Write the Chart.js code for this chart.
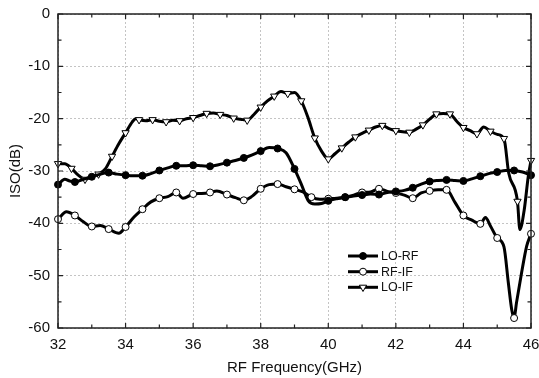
<!DOCTYPE html>
<html><head><meta charset="utf-8">
<script src="https://cdn.jsdelivr.net/npm/chart.js@4"></script>
<style>html,body{margin:0;padding:0;background:#fff}#wrap{width:539px;height:378px;position:relative}</style>
</head><body><div id="wrap"><canvas id="c" width="539" height="378"></canvas></div>
<script>
// ---- data ----
const seriesNames = ['LO-RF', 'RF-IF', 'LO-IF'];
const xTickValues = [32, 34, 36, 38, 40, 42, 44, 46];
const yTickValues = [0, -10, -20, -30, -40, -50, -60];

const freqLoRf = [32.0,32.2,32.35,32.5,32.75,33.0,33.25,33.5,33.75,34.0,34.25,34.5,34.75,35.0,35.25,35.5,35.75,36.0,36.25,36.5,36.75,37.0,37.25,37.5,37.75,38.0,38.25,38.5,38.75,39.0,39.2,39.4,39.6,39.8,40.0,40.25,40.5,40.75,41.0,41.25,41.5,41.75,42.0,42.25,42.5,42.75,43.0,43.25,43.5,43.75,44.0,44.25,44.5,44.75,45.0,45.25,45.5,45.75,46.0];
const isoLoRf  = [-32.6,-31.6,-31.9,-32.1,-31.6,-31.1,-30.6,-30.3,-30.6,-30.8,-30.9,-30.9,-30.5,-29.9,-29.4,-29.0,-29.0,-28.9,-29.0,-29.1,-28.8,-28.4,-28.0,-27.5,-26.9,-26.2,-25.5,-25.7,-26.5,-29.6,-32.5,-35.6,-36.3,-36.2,-35.7,-35.3,-35.0,-34.8,-34.6,-34.4,-34.5,-34.1,-33.9,-33.7,-33.2,-32.5,-32.0,-31.8,-31.7,-31.8,-31.9,-31.5,-31.0,-30.5,-30.2,-29.9,-29.9,-30.2,-30.8];

const freqRfIf = [32.0,32.25,32.5,32.75,33.0,33.25,33.5,33.8,34.0,34.25,34.5,34.75,35.0,35.25,35.5,35.7,36.0,36.25,36.5,36.7,37.0,37.25,37.5,37.75,38.0,38.25,38.5,38.75,39.0,39.25,39.5,39.75,40.0,40.25,40.5,40.75,41.0,41.25,41.5,41.75,42.0,42.25,42.5,42.75,43.0,43.25,43.5,43.75,44.0,44.25,44.5,44.65,44.8,45.0,45.2,45.33,45.43,45.5,45.57,45.72,45.87,46.0];
const isoRfIf  = [-39.2,-37.8,-38.5,-39.7,-40.6,-40.4,-41.1,-41.9,-40.7,-38.8,-37.3,-35.9,-35.2,-34.9,-34.1,-35.2,-34.4,-34.3,-34.1,-33.8,-34.5,-35.1,-35.6,-34.8,-33.4,-32.6,-32.5,-33.0,-33.5,-34.0,-35.0,-35.4,-35.3,-35.2,-35.0,-34.6,-34.1,-34.0,-33.4,-33.9,-34.2,-34.6,-35.2,-34.2,-33.8,-33.6,-33.6,-36.0,-38.5,-39.4,-40.1,-38.9,-40.5,-42.8,-44.5,-51.4,-56.5,-58.1,-55.2,-49.5,-44.4,-42.0];

const freqLoIf = [32.0,32.2,32.4,32.6,32.8,33.0,33.2,33.4,33.6,33.8,34.0,34.2,34.3,34.4,34.6,34.8,35.0,35.2,35.4,35.6,35.8,36.0,36.2,36.4,36.6,36.8,37.0,37.2,37.4,37.6,37.8,38.0,38.2,38.4,38.6,38.8,39.0,39.2,39.4,39.6,39.8,40.0,40.2,40.4,40.6,40.8,41.0,41.2,41.4,41.6,41.8,42.0,42.2,42.4,42.6,42.8,43.0,43.2,43.4,43.6,43.8,44.0,44.2,44.4,44.6,44.8,45.0,45.2,45.34,45.6,45.67,45.8,45.92,46.0];
const isoLoIf  = [-28.6,-28.6,-29.5,-30.8,-31.6,-31.0,-30.6,-29.6,-27.2,-24.8,-22.7,-20.6,-20.0,-20.2,-20.4,-20.2,-20.5,-20.6,-20.3,-20.4,-20.0,-19.8,-19.4,-19.0,-18.9,-19.2,-19.4,-19.9,-20.1,-20.3,-19.2,-17.8,-16.6,-15.7,-14.8,-15.2,-15.0,-16.6,-19.8,-23.7,-26.2,-27.7,-26.7,-25.6,-24.5,-23.5,-22.8,-22.2,-21.6,-21.3,-21.9,-22.3,-22.5,-22.6,-22.0,-21.2,-20.1,-19.1,-19.0,-19.1,-20.5,-21.7,-22.3,-22.9,-21.6,-22.4,-23.0,-23.8,-30.4,-35.8,-41.2,-37.4,-31.0,-28.0];

// ---- chart ----
const FONT = '"Liberation Sans", Arial, Helvetica, sans-serif';
const TXT = '#111';

function isMark(x, step) {
  const k = (x - 32) / step;
  return Math.abs(k - Math.round(k)) < 1e-6;
}
function pts(fs, vs) { return fs.map((f, i) => ({x: f, y: vs[i]})); }

const styles = [
  {pointStyle: 'circle', radius: 3.5, rotation: 0, bg: '#000', step: 0.5},
  {pointStyle: 'circle', radius: 3.5, rotation: 0, bg: '#fff', step: 0.5},
  {pointStyle: 'triangle', radius: 4.2, rotation: 180, bg: '#fff', step: 0.4}
];
const dataSets = [[freqLoRf, isoLoRf], [freqRfIf, isoRfIf], [freqLoIf, isoLoIf]];

const datasets = dataSets.map((d, i) => ({
  label: seriesNames[i],
  data: pts(d[0], d[1]),
  borderColor: '#000',
  borderWidth: 3,
  cubicInterpolationMode: 'monotone',
  fill: false,
  clip: false,
  pointStyle: styles[i].pointStyle,
  rotation: styles[i].rotation,
  pointBackgroundColor: styles[i].bg,
  pointBorderColor: '#000',
  pointBorderWidth: 1,
  pointRadius: ctx => (ctx.raw && isMark(ctx.raw.x, styles[i].step)) ? styles[i].radius : 0,
  pointHoverRadius: 0
}));

const framePlugin = {
  id: 'frame',
  afterDatasetsDraw(chart) {
    const {ctx, chartArea: a, scales: {x, y}} = chart;
    ctx.save();
    ctx.strokeStyle = '#222';
    ctx.lineWidth = 1.5;
    ctx.strokeRect(a.left, a.top, a.right - a.left, a.bottom - a.top);
    ctx.lineWidth = 1.2;
    ctx.beginPath();
    for (let f = 32; f <= 46; f += 1) {
      const px = x.getPixelForValue(f);
      const L = (f % 2 === 0) ? 5 : 3.5;
      ctx.moveTo(px, a.bottom); ctx.lineTo(px, a.bottom - L);
      ctx.moveTo(px, a.top); ctx.lineTo(px, a.top + L);
    }
    for (let v = 0; v >= -60; v -= 5) {
      const py = y.getPixelForValue(v);
      const L = (v % 10 === 0) ? 5 : 3.5;
      ctx.moveTo(a.left, py); ctx.lineTo(a.left + L, py);
      ctx.moveTo(a.right, py); ctx.lineTo(a.right - L, py);
    }
    ctx.stroke();

    // legend
    const lx0 = 348, lx1 = 378, rows = [256, 271.7, 287.3];
    ctx.font = '12.5px ' + FONT;
    ctx.textBaseline = 'middle';
    ctx.textAlign = 'left';
    rows.forEach((ry, i) => {
      ctx.strokeStyle = '#000';
      ctx.lineWidth = 3;
      ctx.beginPath(); ctx.moveTo(lx0, ry); ctx.lineTo(lx1, ry); ctx.stroke();
      ctx.fillStyle = styles[i].bg;
      ctx.strokeStyle = '#000';
      ctx.lineWidth = 1;
      Chart.helpers.drawPoint(ctx, {pointStyle: styles[i].pointStyle, radius: styles[i].radius, rotation: styles[i].rotation, borderWidth: 1}, (lx0 + lx1) / 2, ry);
      ctx.fillStyle = TXT;
      ctx.fillText(seriesNames[i], 381, ry + 0.5);
    });
    ctx.restore();
  }
};

new Chart(document.getElementById('c'), {
  type: 'line',
  data: {datasets},
  plugins: [framePlugin],
  options: {
    responsive: false,
    animation: false,
    devicePixelRatio: 1,
    layout: {padding: {top: 14, right: 8, left: 0, bottom: 0}},
    plugins: {legend: {display: false}, tooltip: {enabled: false}},
    scales: {
      x: {
        type: 'linear', min: 32, max: 46,
        afterFit(s) { s.height = 50; s.paddingLeft = 0; s.paddingRight = 0; },
        afterBuildTicks(s) { s.ticks = xTickValues.map(v => ({value: v})); },
        ticks: {padding: 8, color: TXT, font: {family: FONT, size: 15}, callback: v => String(v)},
        grid: {color: '#c4c4c4', lineWidth: 1, drawTicks: false},
        border: {display: false, dash: [2, 2]},
        title: {display: true, text: 'RF Frequency(GHz)', color: TXT, font: {family: FONT, size: 15}, padding: {top: 0, bottom: 1}}
      },
      y: {
        type: 'linear', min: -60, max: 0,
        afterFit(s) { s.width = 58; s.paddingTop = 0; s.paddingBottom = 0; },
        afterBuildTicks(s) { s.ticks = yTickValues.map(v => ({value: v})); },
        ticks: {padding: 8, color: TXT, font: {family: FONT, size: 15}, callback: v => String(v)},
        grid: {color: '#c4c4c4', lineWidth: 1, drawTicks: false},
        border: {display: false, dash: [2, 2]},
        title: {display: true, text: 'ISO(dB)', color: TXT, font: {family: FONT, size: 15}, padding: {top: 7, bottom: 0}}
      }
    }
  }
});
</script>
</body></html>
